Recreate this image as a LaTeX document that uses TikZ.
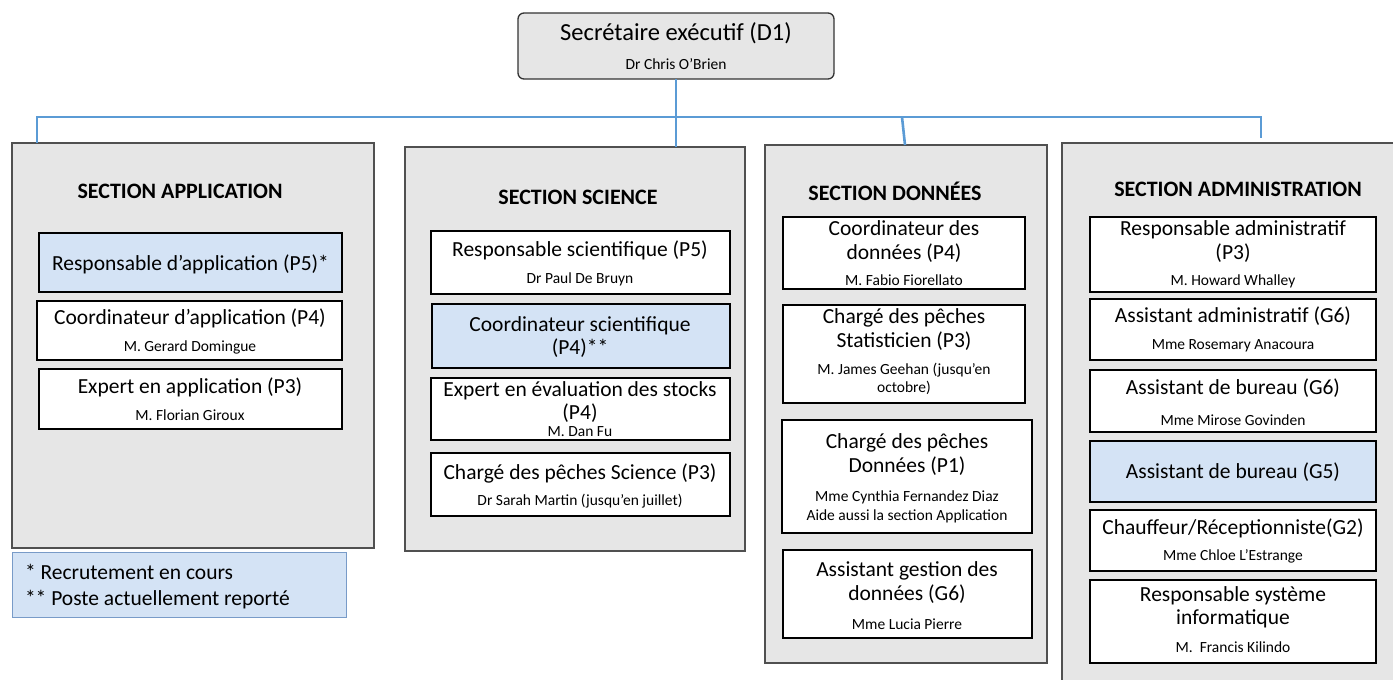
\documentclass[tikz,border=0pt]{standalone}
\usepackage{fontspec}
\setmainfont{Carlito}
\usetikzlibrary{calc}
\definecolor{secfill}{RGB}{230,230,230}
\definecolor{secline}{RGB}{80,80,80}
\definecolor{vacfill}{RGB}{212,227,245}
\definecolor{legline}{RGB}{120,155,200}
\definecolor{linkblue}{RGB}{91,155,213}
\newcommand\bx[6]{\node[#2, minimum width={(#5-#3)*1pt}, minimum height={(#6-#4)*1pt}] (#1) at ({(#3+#5)/2},{(#4+#6)/2}) {};}
\newcommand\tx[5]{\node[#2] (#1) at (#3,#4) {#5};}
\begin{document}
\begin{tikzpicture}[x=1pt,y=-1pt,
  every node/.style={inner sep=0pt, outer sep=0pt},
  sect/.style={draw=secline, fill=secfill, line width=1.3pt},
  topbox/.style={sect, draw=black!80, rounded corners=6pt},
  rbox/.style={draw=black, fill=white, line width=1.1pt},
  vbox/.style={rbox, fill=vacfill},
  legbox/.style={draw=legline, fill=vacfill, line width=1pt},
  ttl/.style={font=\fontsize{24.5}{29}\selectfont, anchor=base, yshift=-8pt},
  role/.style={font=\fontsize{21.5}{24}\selectfont, anchor=base, yshift=-7pt},
  who/.style={font=\fontsize{15.5}{18}\selectfont, anchor=base, yshift=-5pt},
  head/.style={font=\bfseries\fontsize{22}{24}\selectfont, anchor=base, yshift=-7pt},
  leg/.style={role, anchor=base west},
  link/.style={draw=linkblue, line width=2.6pt}]
\useasboundingbox (0,0) rectangle (1393,680);
\clip (0,0) rectangle (1393,680);
% top
\bx{sec}{topbox}{518}{13}{834}{79}
\tx{sect}{ttl}{676}{32}{Secrétaire exécutif (D1)}
\tx{secn}{who}{676}{64}{Dr Chris O’Brien}
% sections
\bx{app}{sect}{12}{143}{374}{548}
\bx{sci}{sect}{405}{147}{745}{551}
\bx{dat}{sect}{765}{145}{1047}{663}
\bx{adm}{sect}{1062}{143}{1402}{692}
\bx{lgd}{legbox}{12}{552}{346}{617}
\tx{lg1}{leg}{25}{572}{* Recrutement en cours}
\tx{lg2}{leg}{25}{598}{** Poste actuellement reporté}
% application
\tx{apph}{head}{180}{191}{SECTION APPLICATION}
\bx{a1}{vbox}{39}{233}{342}{292}
\tx{a1t}{role}{190.5}{263}{Responsable d’application (P5)*}
\bx{a2}{rbox}{37}{301}{342}{360}
\tx{a2t}{role}{190}{317}{Coordinateur d’application (P4)}
\tx{a2n}{who}{190}{346}{M. Gerard Domingue}
\bx{a3}{rbox}{39}{369}{342}{429}
\tx{a3t}{role}{190}{386}{Expert en application (P3)}
\tx{a3n}{who}{190}{415}{M. Florian Giroux}
% science
\tx{scih}{head}{578}{197}{SECTION SCIENCE}
\bx{s1}{rbox}{431}{231}{730}{294}
\tx{s1t}{role}{580}{249}{Responsable scientifique (P5)}
\tx{s1n}{who}{580}{278}{Dr Paul De Bruyn}
\bx{s2}{vbox}{432}{304}{730}{368}
\tx{s2t}{role}{580}{324}{Coordinateur scientifique}
\tx{s2u}{role}{580}{347}{(P4)**}
\bx{s3}{rbox}{431}{378}{730}{440}
\tx{s3t}{role}{580}{389}{Expert en évaluation des stocks}
\tx{s3u}{role}{580}{412}{(P4)}
\tx{s3n}{who}{580}{431}{M. Dan Fu}
\bx{s4}{rbox}{431}{453}{730}{516}
\tx{s4t}{role}{580}{472}{Chargé des pêches Science (P3)}
\tx{s4n}{who}{580}{500}{Dr Sarah Martin (jusqu’en juillet)}
% donnees
\tx{dath}{head}{895}{193}{SECTION DONNÉES}
\bx{n1}{rbox}{783}{217}{1025}{289}
\tx{n1t}{role}{904}{228}{Coordinateur des}
\tx{n1u}{role}{904}{252}{données (P4)}
\tx{n1n}{who}{904}{280}{M. Fabio Fiorellato}
\bx{n2}{rbox}{783}{305}{1025}{403}
\tx{n2t}{role}{904}{316}{Chargé des pêches}
\tx{n2u}{role}{904}{340}{Statisticien (P3)}
\tx{n2n}{who}{904}{369}{M. James Geehan (jusqu’en}
\tx{n2m}{who}{904}{387}{octobre)}
\bx{n3}{rbox}{782}{420}{1032}{533}
\tx{n3t}{role}{907}{441}{Chargé des pêches}
\tx{n3u}{role}{907}{465}{Données (P1)}
\tx{n3n}{who}{907}{496}{Mme Cynthia Fernandez Diaz}
\tx{n3m}{who}{907}{515}{Aide aussi la section Application}
\bx{n4}{rbox}{783}{550}{1032}{638}
\tx{n4t}{role}{907}{569}{Assistant gestion des}
\tx{n4u}{role}{907}{593}{données (G6)}
\tx{n4n}{who}{907}{624}{Mme Lucia Pierre}
% administration
\tx{admh}{head}{1238}{189}{SECTION ADMINISTRATION}
\bx{m1}{rbox}{1090}{217}{1376}{292}
\tx{m1t}{role}{1233}{228}{Responsable administratif}
\tx{m1u}{role}{1233}{252}{(P3)}
\tx{m1n}{who}{1233}{280}{M. Howard Whalley}
\bx{m2}{rbox}{1090}{299}{1376}{360}
\tx{m2t}{role}{1233}{315}{Assistant administratif (G6)}
\tx{m2n}{who}{1233}{344}{Mme Rosemary Anacoura}
\bx{m3}{rbox}{1090}{370}{1376}{432}
\tx{m3t}{role}{1233}{387}{Assistant de bureau (G6)}
\tx{m3n}{who}{1233}{420}{Mme Mirose Govinden}
\bx{m4}{vbox}{1090}{441}{1376}{502}
\tx{m4t}{role}{1233}{471}{Assistant de bureau (G5)}
\bx{m5}{rbox}{1090}{510}{1376}{571}
\tx{m5t}{role}{1233}{527}{Chauffeur/Réceptionniste(G2)}
\tx{m5n}{who}{1233}{555}{Mme Chloe L’Estrange}
\bx{m6}{rbox}{1090}{580}{1376}{663}
\tx{m6t}{role}{1233}{594}{Responsable système}
\tx{m6u}{role}{1233}{617}{informatique}
\tx{m6n}{who}{1233}{647}{M.\ \ Francis Kilindo}
% connectors
\coordinate (busL) at (37,117);
\coordinate (busR) at (1261,117);
\coordinate (admtop) at (1261,138);
\coordinate (dj) at (902,117);
\draw[link] (sec.south) -- (sec.south |- sci.north);
\draw[link] (busL |- app.north) -- (busL) -- (busR) -- (admtop);
\draw[link] (dj) -- ($(dat.north west)+(140,0)$);
\end{tikzpicture}
\end{document}
